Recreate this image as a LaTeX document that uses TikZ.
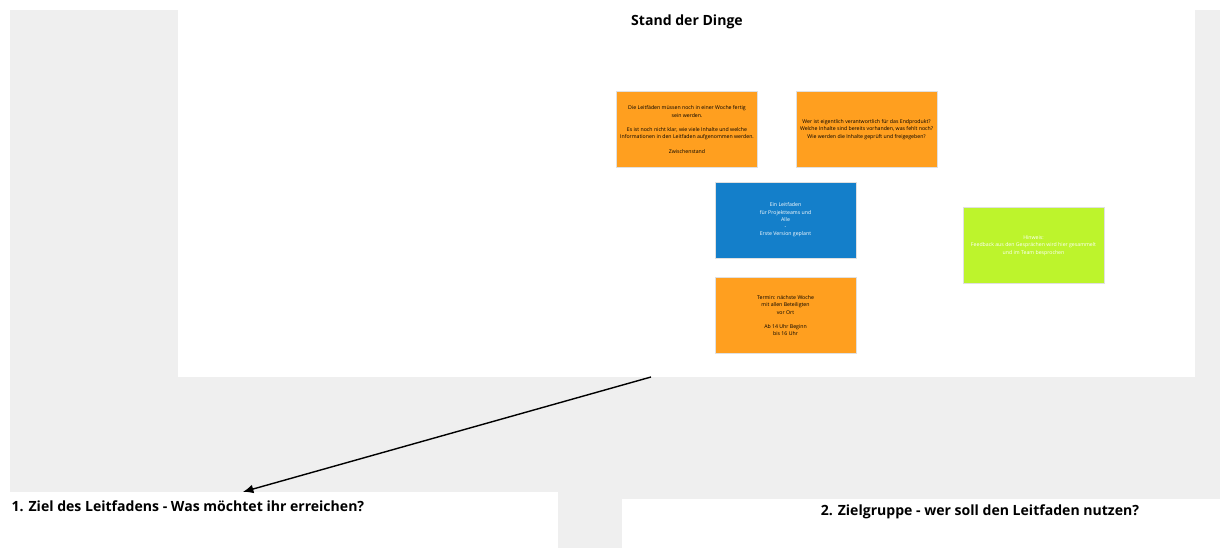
\documentclass[tikz,border=0pt]{standalone}
\usepackage{fontspec}
\setmainfont{Open Sans}
\usepackage{xcolor}
\usetikzlibrary{positioning,arrows.meta,calc}
\definecolor{boardgray}{HTML}{EFEFEF}
\definecolor{noteorange}{HTML}{FF9F1F}
\definecolor{noteblue}{HTML}{147FCA}
\definecolor{notegreen}{HTML}{BDF42C}

\begin{document}
\begin{tikzpicture}[
  x=0.25mm, y=-0.25mm,
  font=\normalsize,
  frame/.style={fill=white, draw=none},
  frametitle/.style={font=\bfseries\normalsize, inner sep=1pt},
  sticky/.style={
    draw=black!12, line width=0.4pt,
    minimum width=35.25mm, minimum height=19mm,
    align=center, inner sep=2pt,
    font=\fontsize{3.7}{5.2}\selectfont
  },
  flow/.style={-{Latex[length=2.6mm,width=2.2mm]}, line width=1pt},
]
\useasboundingbox (0,0) rectangle (1220,548);

% Board background and the three frames on it.
\fill[boardgray] (10,10) rectangle (1220,548);
\fill[frame] (178,10) rectangle (1195,377);
\fill[frame] (0,492) rectangle (558,548);
\fill[frame] (622,499) rectangle (1220,548);

\node[frametitle] (stand) at (687,22) {Stand der Dinge};
\node[frametitle, anchor=west] (ziel) at (10,506)
  {1. Ziel des Leitfadens - Was möchtet ihr erreichen?};
\node[frametitle] (gruppe) at (980,512)
  {2. Zielgruppe - wer soll den Leitfaden nutzen?};

% Sticky notes inside the first frame.
\node[sticky, fill=noteorange] (stand1) at (687,129.5)
  {Die Leitfäden müssen noch in einer Woche fertig\\ sein werden.\\[5pt]
   Es ist noch nicht klar, wie viele Inhalte und welche\\
   Informationen in den Leitfaden aufgenommen werden.\\[5pt]
   Zwischenstand};
\node[sticky, fill=noteorange, right=0.95cm of stand1] (stand2)
  {Wer ist eigentlich verantwortlich für das Endprodukt?\\
   Welche Inhalte sind bereits vorhanden, was fehlt noch?\\
   Wie werden die Inhalte geprüft und freigegeben?};
\node[sticky, fill=noteblue, text=white] (stand3) at (785.5,220)
  {Ein Leitfaden\\ für Projektteams und\\ Alle\\ -\\ Erste Version geplant};
\node[sticky, fill=noteorange, below=4.75mm of stand3] (stand4)
  {Termin: nächste Woche\\ mit allen Beteiligten\\ vor Ort\\[5pt]
   Ab 14 Uhr Beginn\\ bis 16 Uhr};
\node[sticky, fill=notegreen, text=white] (stand5) at (1033.5,245.5)
  {Hinweis:\\ Feedback aus den Gesprächen wird hier gesammelt\\
   und im Team besprochen};

% Link from the first frame down to the goal question.
\coordinate (from) at ($(stand.south |- 0,377)+(-36,0)$);
\coordinate (to) at ($(ziel.north west)+(233,-7)$);
\draw[flow] (from) -- (to);

\end{tikzpicture}
\end{document}
